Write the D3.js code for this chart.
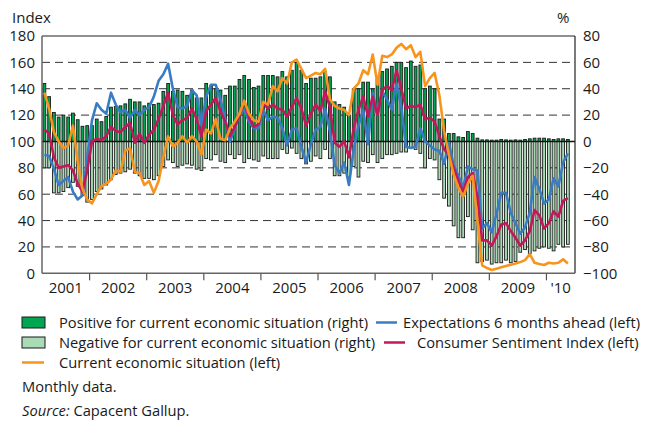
<!DOCTYPE html>
<html>
<head>
<meta charset="utf-8">
<script src="https://cdn.jsdelivr.net/npm/d3@7"></script>
<style>
  body { margin: 0; background: #fff; }
  svg { font-family: "Open Sans", sans-serif; }
</style>
</head>
<body>
<svg width="646" height="422"></svg>
<script>
// monthly data, Mar 2001 - May 2010 (axis runs to Jun 2010)
const months = d3.timeMonth.range(new Date(2001, 2, 1), new Date(2010, 6, 1));

// Current economic situation (left)
const current = [137,125,107,100,95,97,112,85,64,56,53,60,66,68,71,78,77,93,95,77,76,67,70,
  61,70,88,104,96,99,104,99,104,100,90,109,106,117,102,101,110,115,121,131,121,116,
  115,130,128,142,138,148,144,160,162,155,148,150,152,151,155,132,127,125,124,120,140,144,
  154,151,166,143,165,164,166,171,174,170,173,164,168,
  142,148,152,135,108,90,75,65,58,68,74,40,
  6,4,2.5,3.5,4.5,5.5,6.5,7.5,8.5,10,14.5,8,7,6.3,8,7.5,8,10.6,7.5];

// Expectations 6 months ahead (left)
const expectations = [90,89,79,67,70,73,62,56,59,88,116,129,124,121,137,128,122,124,118,124,120,124,126,
  134,146,151,159,140,126,125,127,139,135,112,134,143,143,132,117,100,110,121,124,115,110,
  110,124,116,119,118,110,97,109,110,96,84,98,109,111,125,108,82,76,84,67,94,112,
  124,98,137,120,138,132,124,144,126,96,95,96,110,
  100,97,94,93,83,99,82,74,65,81,79,78,
  34,38,31,45,61,61,46,38,30,35,46,73,64,53,56,72,66,84,91];

// Consumer Sentiment Index (left)
const sentiment = [109,106,88,80,81,82,78,68,62,78,100,102,101,104,111,108,107,111,114,99,106,99,105,
  109,117,127,137,120,113,116,118,125,117,104,123,128,133,123,115,104,111,120,130,118,111,
  113,129,125,128,125,124,119,126,133,125,112,121,128,123,138,126,99,96,100,88,110,124,
  134,119,134,120,139,142,139,154,140,125,127,126,128,
  117,118,115,104,94,90,80,70,62,73,76,58,
  25,25,21,28,37,38,32,27,21,25,32,48,44,34,38,47,43,55,57];

// Positive for current economic situation (right, %)
const positive = [44,34,22,18.5,20,18.5,21.5,16.5,11.5,12,12,17,15,19,26,26.5,27,28.5,32,30,30,27,
  29,28,29,38,44,38,39,38,35,39,33,33,44,42,40,39,35,42,42,47,50,47,41,
  42,50,50,50,49,53,49,54,60,54,44,48,48,49,53,49,30,28,26,20,40,40,
  45,45,40,47,53,55,57,60,60,56,61,57,58,
  40,42,40,17,17,6,6,3.5,3,7.5,6,2.5,
  1.2,1.2,1,1,1.5,1.2,1,1.2,1,1.5,2,2.5,2.5,2.5,2,1.5,2,2,1.5];

// Negative for current economic situation (right, %)
const negative = [-20,-20,-39,-39,-38,-35,-31,-34,-41,-46,-44,-38,-36,-33,-29,-25,-24,-23,-21,-24,-26,-28,
  -28,-29,-26,-19,-14,-16,-19,-18,-17,-18,-21,-22,-13,-14,-10,-15,-16,-10,-13,-10,-16,-13,-14,
  -15,-11,-13,-13,-13,-6,-9,-5,-9,-13,-17,-15,-11,-13,-6,-13,-26,-26,-24,-27,-19,-27,
  -15,-16,-10,-16,-13,-10,-10,-9,-8,-8,-5,-6,-9,
  -20,-13,-14,-29,-43,-49,-64,-73,-73,-57,-67,-92,
  -91,-90,-93,-92,-92,-90,-92,-91,-84,-82,-85,-83,-81,-80,-81,-83,-78,-80,-78];

const leftTicks = [0,20,40,60,80,100,120,140,160,180];
const rightTicks = [-100,-80,-60,-40,-20,0,20,40,60,80];
const years = [2001,2002,2003,2004,2005,2006,2007,2008,2009,2010];
const yearLabels = ["2001","2002","2003","2004","2005","2006","2007","2008","2009","'10"];

const svg = d3.select("svg");
const mLeft = 42, mRight = 575, mTop = 36, mBottom = 273.3;

const x = d3.scaleBand().domain(months).range([mLeft, mRight]).padding(0);
const yL = d3.scaleLinear().domain([0, 180]).range([mBottom, mTop]);
const yR = d3.scaleLinear().domain([-100, 80]).range([mBottom, mTop]);
const cx = i => x(months[i]) + x.bandwidth() / 2;

// dashed grid
svg.append("g").selectAll("line")
  .data(leftTicks.filter(d => d > 0 && d < 180 && d !== 100))
  .enter().append("line")
    .attr("x1", mLeft).attr("x2", mRight)
    .attr("y1", d => yL(d)).attr("y2", d => yL(d))
    .attr("stroke", "#333").attr("stroke-width", 1)
    .attr("stroke-dasharray", "8,5");

// bars
const bw = 2.8;
const bars = svg.append("g").attr("stroke", "#1b1b1b").attr("stroke-width", 0.9);
bars.selectAll(".neg").data(negative).enter().append("rect")
    .attr("class", "neg")
    .attr("x", (d, i) => cx(i) - bw / 2)
    .attr("y", yR(0))
    .attr("width", bw)
    .attr("height", d => yR(d) - yR(0))
    .attr("fill", "#a9dbb5");
bars.selectAll(".pos").data(positive).enter().append("rect")
    .attr("class", "pos")
    .attr("x", (d, i) => cx(i) - bw / 2)
    .attr("y", d => yR(d))
    .attr("width", bw)
    .attr("height", d => yR(0) - yR(d))
    .attr("fill", "#00a651");

// zero line
svg.append("line")
    .attr("x1", mLeft).attr("x2", mRight)
    .attr("y1", yR(0)).attr("y2", yR(0))
    .attr("stroke", "#111").attr("stroke-width", 1.5);

// lines
const line = d3.line().x((d, i) => cx(i)).y(d => yL(d));
[[expectations, "#3a7cc3"], [sentiment, "#c2185b"], [current, "#f7941d"]].forEach(([s, c]) => {
  svg.append("path").datum(s)
    .attr("d", line)
    .attr("fill", "none")
    .attr("stroke", c)
    .attr("stroke-width", 2.6)
    .attr("stroke-linejoin", "round");
});

// frame
svg.append("line").attr("x1", mLeft).attr("x2", mRight).attr("y1", mTop).attr("y2", mTop)
    .attr("stroke", "#222").attr("stroke-width", 1);
svg.append("line").attr("x1", mRight).attr("x2", mRight).attr("y1", mTop).attr("y2", mBottom)
    .attr("stroke", "#222").attr("stroke-width", 1.2);
svg.append("line").attr("x1", mLeft).attr("x2", mLeft).attr("y1", mTop).attr("y2", mBottom)
    .attr("stroke", "#666").attr("stroke-width", 1.5);
svg.append("line").attr("x1", mLeft).attr("x2", mRight).attr("y1", mBottom).attr("y2", mBottom)
    .attr("stroke", "#666").attr("stroke-width", 1.5);

// y axes
svg.append("g")
    .attr("transform", `translate(${mLeft},0)`)
    .call(d3.axisLeft(yL).tickValues(leftTicks).tickSize(0).tickPadding(7))
    .call(g => g.select(".domain").remove())
    .selectAll("text").attr("font-size", 15).attr("fill", "#1a1a1a")
    .attr("font-family", "Open Sans, sans-serif");
svg.append("g")
    .attr("transform", `translate(${mRight},0)`)
    .call(d3.axisRight(yR).tickValues(rightTicks).tickSize(0).tickPadding(8))
    .call(g => g.select(".domain").remove())
    .selectAll("text").attr("font-size", 15).attr("fill", "#1a1a1a")
    .attr("font-family", "Open Sans, sans-serif");

svg.append("text").attr("x", 12).attr("y", 23).attr("font-size", 15).attr("fill", "#1a1a1a").text("Index");
svg.append("text").attr("x", 557).attr("y", 23).attr("font-size", 15).attr("fill", "#1a1a1a").text("%");

// year ticks and labels
const jan = months.filter(m => m.getMonth() === 0);
svg.append("g").selectAll("line").data(jan).enter().append("line")
    .attr("x1", d => x(d)).attr("x2", d => x(d))
    .attr("y1", mBottom).attr("y2", mBottom + 7)
    .attr("stroke", "#555").attr("stroke-width", 1.2);
svg.append("g").selectAll("text").data(years).enter().append("text")
    .attr("x", d => {
      const a = d === 2001 ? mLeft : x(new Date(d, 0, 1));
      const b = d === 2010 ? mRight : x(new Date(d + 1, 0, 1));
      return (a + b) / 2;
    })
    .attr("y", 293)
    .attr("text-anchor", "middle")
    .attr("font-size", 15).attr("fill", "#1a1a1a")
    .text((d, i) => yearLabels[i]);

// legend
const lg = svg.append("g").attr("font-size", 14.7).attr("fill", "#1a1a1a");
lg.append("rect").attr("x", 22).attr("y", 317).attr("width", 23).attr("height", 11)
  .attr("fill", "#00a651").attr("stroke", "#1b1b1b").attr("stroke-width", 1);
lg.append("text").attr("x", 59).attr("y", 328).text("Positive for current economic situation (right)");
lg.append("line").attr("x1", 376).attr("x2", 397).attr("y1", 322.5).attr("y2", 322.5)
  .attr("stroke", "#3a7cc3").attr("stroke-width", 2.5);
lg.append("text").attr("x", 403).attr("y", 328).text("Expectations 6 months ahead (left)");

lg.append("rect").attr("x", 22).attr("y", 337).attr("width", 23).attr("height", 11)
  .attr("fill", "#a9dbb5").attr("stroke", "#1b1b1b").attr("stroke-width", 1);
lg.append("text").attr("x", 59).attr("y", 348).text("Negative for current economic situation (right)");
lg.append("line").attr("x1", 384).attr("x2", 405).attr("y1", 342.5).attr("y2", 342.5)
  .attr("stroke", "#c2185b").attr("stroke-width", 2.5);
lg.append("text").attr("x", 417).attr("y", 348).text("Consumer Sentiment Index (left)");

lg.append("line").attr("x1", 22).attr("x2", 44).attr("y1", 362.5).attr("y2", 362.5)
  .attr("stroke", "#f7941d").attr("stroke-width", 2.5);
lg.append("text").attr("x", 59).attr("y", 368).text("Current economic situation (left)");

lg.append("text").attr("x", 22).attr("y", 392).text("Monthly data.");
const src = lg.append("text").attr("x", 22).attr("y", 416);
src.append("tspan").attr("font-style", "italic").text("Source:");
src.append("tspan").text(" Capacent Gallup.");
</script>
</body>
</html>
